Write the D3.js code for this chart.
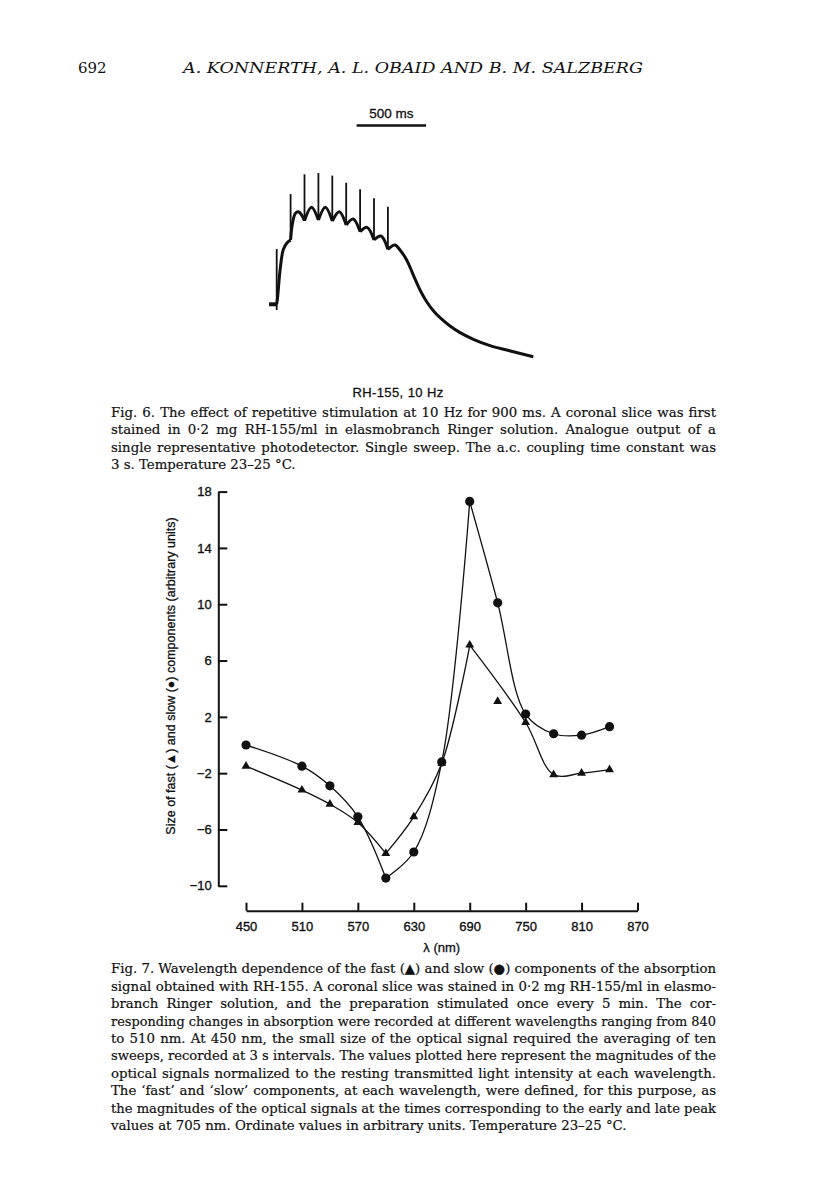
<!DOCTYPE html>
<html>
<head>
<meta charset="utf-8">
<script src="https://cdn.jsdelivr.net/npm/d3@7"></script>
<style>
  body { margin: 0; background: #fff; }
  .serif { font-family: "DejaVu Serif", serif; }
  .sans { font-family: "Liberation Sans", Arial, sans-serif; }
</style>
</head>
<body>
<div class="container"></div>
<script>
// ---- data: Fig. 6 trace (time in ms, amplitude in arbitrary units) ----
const traceT = [-55, 0, 7, 24, 47, 72, 100, 113, 135, 160, 200, 250, 300, 350, 400, 450, 500, 550, 600, 650, 700, 750, 800, 850, 887, 935, 983, 1031, 1079, 1127, 1175, 1247, 1319, 1415, 1535, 1655, 1846];
const traceA = [0, 0, 6, 26, 42, 47, 49.5, 62, 70, 71, 64.3, 74.6, 64.8, 74.6, 64, 71.2, 61, 65.6, 55.8, 59.2, 49.5, 52.5, 42.3, 45.6, 41.8, 34.1, 22.5, 11, 2, -4.9, -10.3, -16.7, -21.8, -26.9, -31.8, -35.2, -40.3];
const stimTimes = [0, 100, 200, 300, 400, 500, 600, 700, 800];
const stimTop = [42.5, 84.8, 100, 101, 99, 93.5, 88.5, 81.5, 75];
const stimLow = [-4.4, 49.5, 64.3, 64.8, 64, 61, 55.8, 49.5, 42.3];
const scaleBarMs = 500;

// ---- data: Fig. 7 ----
const wavelengths = [450, 510, 540, 570, 600, 630, 660, 690, 720, 750, 780, 810, 840];
const slowVals = [0.0, -1.5, -2.9, -5.1, -9.45, -7.6, -1.2, 17.3, 10.1, 2.2, 0.8, 0.7, 1.3];
const fastVals = [-1.5, -3.2, -4.2, -5.5, -7.7, -5.1, -1.3, 7.1, 3.1, 1.6, -2.1, -2.0, -1.75];
const curveBreaks = [600, 690];   // sharp corners in the drawn curves
const fastOffCurve = [720];       // fast point the drawn curve misses
const yTicks = [18, 14, 10, 6, 2, -2, -6, -10];
const xTicks = [450, 510, 570, 630, 690, 750, 810, 870];

const fig6Caption = [
  "Fig. 6. The effect of repetitive stimulation at 10 Hz for 900 ms. A coronal slice was first",
  "stained in 0·2 mg RH-155/ml in elasmobranch Ringer solution. Analogue output of a",
  "single representative photodetector. Single sweep. The a.c. coupling time constant was",
  "3 s. Temperature 23–25 °C."
];
const fig7Caption = [
  "Fig. 7. Wavelength dependence of the fast (▲) and slow (●) components of the absorption",
  "signal obtained with RH-155. A coronal slice was stained in 0·2 mg RH-155/ml in elasmo-",
  "branch Ringer solution, and the preparation stimulated once every 5 min. The cor-",
  "responding changes in absorption were recorded at different wavelengths ranging from 840",
  "to 510 nm. At 450 nm, the small size of the optical signal required the averaging of ten",
  "sweeps, recorded at 3 s intervals. The values plotted here represent the magnitudes of the",
  "optical signals normalized to the resting transmitted light intensity at each wavelength.",
  "The ‘fast’ and ‘slow’ components, at each wavelength, were defined, for this purpose, as",
  "the magnitudes of the optical signals at the times corresponding to the early and late peak",
  "values at 705 nm. Ordinate values in arbitrary units. Temperature 23–25 °C."
];

const ink = '#111';
const svg = d3.select('.container')
  .append('svg')
  .attr('width', 816)
  .attr('height', 1198);
svg.append('rect').attr('width', 816).attr('height', 1198).attr('fill', '#fff');

// ---- running head ----
svg.append('text').attr('class', 'serif').attr('x', 78).attr('y', 73)
  .attr('font-size', 15).attr('fill', ink).text('692');
svg.append('text').attr('class', 'serif').attr('x', 183).attr('y', 73)
  .attr('font-size', 15).attr('font-style', 'italic').attr('fill', ink)
  .attr('textLength', 460).attr('lengthAdjust', 'spacingAndGlyphs')
  .text('A. KONNERTH, A. L. OBAID AND B. M. SALZBERG');

// ---- Fig. 6 ----
const tS = d3.scaleLinear().domain([0, 1000]).range([276.7, 415.7]);
const aS = d3.scaleLinear().domain([0, 100]).range([304.3, 174.3]);

const barStart = 575;
svg.append('line')
  .attr('x1', tS(barStart)).attr('x2', tS(barStart + scaleBarMs))
  .attr('y1', 125.5).attr('y2', 125.5)
  .attr('stroke', ink).attr('stroke-width', 2.6);
svg.append('text').attr('class', 'sans')
  .attr('x', tS(barStart + scaleBarMs / 2)).attr('y', 117.5)
  .attr('text-anchor', 'middle').attr('font-size', 13.5).attr('fill', ink)
  .attr('stroke', ink).attr('stroke-width', 0.3)
  .text(scaleBarMs + ' ms');

// split the trace at each stimulus so every interval is its own arc
let tracePts = traceT.map((t, i) => [t, traceA[i]]);
let pieces = [];
let cur = [];
tracePts.forEach(p => {
  cur.push(p);
  if (stimTimes.includes(p[0])) {
    if (cur.length > 1) pieces.push(cur);
    cur = [p];
  }
});
if (cur.length > 1) pieces.push(cur);

const traceLine = d3.line()
  .x(d => tS(d[0])).y(d => aS(d[1]))
  .curve(d3.curveCatmullRom);

svg.append('g').selectAll('path')
  .data(pieces)
  .enter()
  .append('path')
  .attr('d', traceLine)
  .attr('fill', 'none')
  .attr('stroke', ink)
  .attr('stroke-width', (d, i) => i == 0 ? 4 : 3)
  .attr('stroke-linecap', 'butt')
  .attr('stroke-linejoin', 'round');

svg.append('g').selectAll('line')
  .data(stimTimes)
  .enter()
  .append('line')
  .attr('x1', d => tS(d)).attr('x2', d => tS(d))
  .attr('y1', (d, i) => aS(stimLow[i]))
  .attr('y2', (d, i) => aS(stimTop[i]))
  .attr('stroke', ink)
  .attr('stroke-width', 1.8);

svg.append('text').attr('class', 'sans')
  .attr('x', 398).attr('y', 396.5)
  .attr('text-anchor', 'middle').attr('font-size', 13).attr('fill', ink)
  .attr('stroke', ink).attr('stroke-width', 0.3)
  .attr('letter-spacing', 0.4)
  .text('RH-155, 10 Hz');

// ---- captions ----
const blockX = 111, blockW = 605, lineH = 17.4;

let writeCaption = (lines, y0) => {
  let g = svg.append('g').attr('class', 'serif').attr('font-size', 13.3)
    .attr('fill', ink).attr('stroke', ink).attr('stroke-width', 0.2);
  g.selectAll('text')
    .data(lines)
    .enter()
    .append('text')
    .attr('x', blockX)
    .attr('y', (d, i) => y0 + i * lineH)
    .text(d => d)
    .each(function (d, i) {
      let node = this;
      let len = node.getComputedTextLength();
      let last = i == lines.length - 1;
      let spaces = (d.match(/ /g) || []).length;
      if (len > blockW) {
        d3.select(node).attr('textLength', blockW).attr('lengthAdjust', 'spacingAndGlyphs');
      } else if (!last && spaces) {
        d3.select(node).attr('word-spacing', (blockW - len) / spaces);
      }
    });
};
writeCaption(fig6Caption, 416.7);
writeCaption(fig7Caption, 973.3);

// ---- Fig. 7 ----
const xS = d3.scaleLinear().domain([450, 870]).range([246, 637.5]);
const yS = d3.scaleLinear().domain([-10, 18]).range([885.8, 491.6]);

const yAxis = svg.append('g')
  .attr('transform', 'translate(218.3,0)')
  .call(d3.axisLeft(yS).tickValues(yTicks).tickSizeInner(-9).tickSizeOuter(0).tickPadding(6.5));
const xAxis = svg.append('g')
  .attr('transform', 'translate(0,910.7)')
  .call(d3.axisBottom(xS).tickValues(xTicks).tickSizeInner(-8).tickSizeOuter(0).tickPadding(11));

[yAxis, xAxis].forEach(ax => {
  ax.select('.domain').attr('stroke', ink).attr('stroke-width', 2);
  ax.selectAll('.tick line').attr('stroke', ink).attr('stroke-width', 2);
  ax.selectAll('.tick text').attr('class', 'sans').attr('font-size', 13)
    .attr('fill', ink).attr('stroke', ink).attr('stroke-width', 0.35);
});

svg.append('text').attr('class', 'sans')
  .attr('x', 441.7).attr('y', 951.5)
  .attr('text-anchor', 'middle').attr('font-size', 13).attr('fill', ink)
  .attr('stroke', ink).attr('stroke-width', 0.3)
  .text('λ (nm)');

svg.append('text').attr('class', 'sans')
  .attr('transform', 'translate(174.5,676) rotate(-90)')
  .attr('text-anchor', 'middle').attr('font-size', 12.5).attr('fill', ink)
  .attr('stroke', ink).attr('stroke-width', 0.3)
  .text('Size of fast (▲) and slow (●) components (arbitrary units)');

let makePieces = (vals, skip) => {
  let pts = wavelengths.map((w, i) => [w, vals[i]]).filter(p => !skip.includes(p[0]));
  let out = [];
  let c = [];
  pts.forEach(p => {
    c.push(p);
    if (curveBreaks.includes(p[0])) {
      out.push(c);
      c = [p];
    }
  });
  if (c.length > 1) out.push(c);
  return out;
};

const fitLine = d3.line()
  .x(d => xS(d[0])).y(d => yS(d[1]))
  .curve(d3.curveCatmullRom);

svg.append('g').selectAll('path')
  .data(makePieces(slowVals, []).concat(makePieces(fastVals, fastOffCurve)))
  .enter()
  .append('path')
  .attr('d', fitLine)
  .attr('fill', 'none')
  .attr('stroke', ink)
  .attr('stroke-width', 1.3);

svg.append('g').selectAll('path')
  .data(wavelengths)
  .enter()
  .append('path')
  .attr('d', d3.symbol(d3.symbolTriangle, 34))
  .attr('transform', (d, i) => `translate(${xS(d)},${yS(fastVals[i])})`)
  .attr('fill', ink);

svg.append('g').selectAll('circle')
  .data(wavelengths)
  .enter()
  .append('circle')
  .attr('cx', d => xS(d))
  .attr('cy', (d, i) => yS(slowVals[i]))
  .attr('r', 4.6)
  .attr('fill', ink);
</script>
</body>
</html>
